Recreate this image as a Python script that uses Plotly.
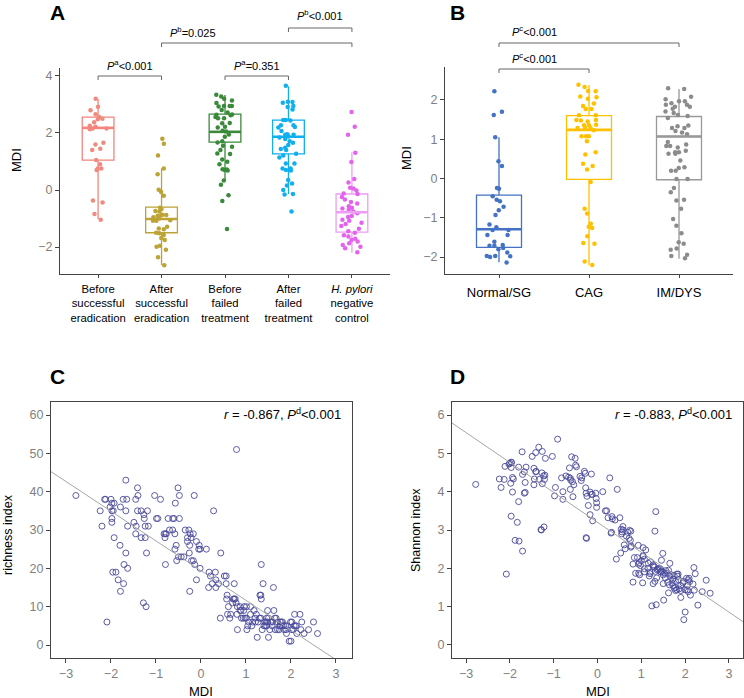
import plotly.graph_objects as go

W, H = 744, 698
FONT = "Liberation Sans, Arial, sans-serif"
TICKC = "#7f7f7f"
AXC = "#444444"

# ---------------- Panel A data ----------------
a_labels = ["Before<br>successful<br>eradication", "After<br>successful<br>eradication",
            "Before<br>failed<br>treatment", "After<br>failed<br>treatment",
            "<i>H. pylori</i><br>negative<br>control"]
a_q1 = [1.05, -1.50, 1.68, 1.27, -1.48]
a_med = [2.18, -1.02, 2.04, 1.87, -0.78]
a_q3 = [2.56, -0.60, 2.66, 2.45, -0.14]
a_lo = [-1.03, -2.63, 0.32, -0.14, -2.20]
a_hi = [3.19, 0.75, 3.33, 3.64, 1.32]
a_line_colors = ["#F4847C", "#BCA335", "#3A8A3A", "#12AFEF", "#EE9CF4"]
a_point_colors = ["#F08A80", "#BCA335", "#3A8A3A", "#12AFEF", "#E463EE"]
a_pts = [
    [3.2, 2.92, 2.8, 2.66, 2.48, 2.5, 2.56, 2.38, 2.25, 2.22, 2.16, 2.16, 2.13, 1.66, 1.6,
     1.4, 1.45, 1.05, 0.9, 0.75, 0.75, 0.7, -0.37, -0.44, -0.84, -1.04],
    [1.8, 1.62, 1.21, 0.75, 0.55, 0.01, -0.07, -0.2, -0.62, -0.67, -0.75, -0.74, -0.87, -0.88,
     -0.89, -0.9, -1.0, -1.06, -1.08, -1.08, -0.96, -1.29, -1.35, -1.38, -1.5, -1.58, -1.52,
     -1.68, -1.75, -1.96, -2.1, -1.99, -2.36, -2.64],
    [3.34, 3.28, 3.2, 3.05, 3.14, 2.95, 2.95, 2.93, 2.95, 2.81, 2.72, 2.64, 2.62, 2.65, 2.52,
     2.56, 2.52, 2.34, 2.35, 2.22, 2.19, 2.05, 2.08, 1.95, 1.87, 1.71, 1.67, 1.55, 1.52, 1.4,
     1.28, 1.26, 1.07, 0.99, 0.9, 0.72, 0.73, 0.7, 0.68, 0.33, 0.18, -0.18, -0.39, -1.37],
    [3.66, 3.1, 3.09, 2.95, 3.06, 2.91, 2.82, 2.46, 2.46, 2.44, 2.27, 2.27, 2.19, 2.21, 2.07,
     1.96, 1.94, 1.88, 1.94, 1.84, 1.79, 1.66, 1.71, 1.58, 1.48, 1.4, 1.44, 1.21, 1.27, 1.14,
     0.93, 0.93, 0.75, 0.75, 0.7, 0.68, 0.23, 0.35, 0.16, 0.0, -0.14, -0.16, -0.75],
    [2.74, 2.22, 1.94, 1.31, 0.98, 0.39, 0.26, 0.08, 0.05, -0.12, -0.14, -0.33, -0.42, -0.47,
     -0.57, -0.62, -0.65, -0.7, -0.75, -0.82, -0.91, -0.95, -1.04, -1.08, -1.15, -1.19, -1.26,
     -1.36, -1.45, -1.5, -1.59, -1.63, -1.71, -1.75, -1.81, -1.87, -1.93, -1.99, -2.04, -2.18,
     -0.02, -0.25],
]

# ---------------- Panel B data ----------------
b_labels = ["Normal/SG", "CAG", "IM/DYS"]
b_q1 = [-1.75, -0.02, -0.03]
b_med = [-1.29, 1.24, 1.07]
b_q3 = [-0.42, 1.60, 1.58]
b_lo = [-2.13, -2.21, -2.04]
b_hi = [1.05, 2.38, 2.28]
b_line_colors = ["#4472C4", "#FFC000", "#999999"]
b_point_colors = ["#4472C4", "#FFC000", "#8C8C8C"]
b_pts = [
    [2.22, 1.7, 1.62, 1.05, 0.44, 0.32, -0.24, -0.26, -0.45, -0.54, -0.58, -0.72, -0.81, -0.93,
     -1.17, -1.24, -1.31, -1.44, -1.44, -1.31, -1.69, -1.71, -1.71, -1.61, -1.77, -1.8, -1.88,
     -1.97, -2.0, -1.97, -1.98, -2.14],
    [2.39, 2.33, 2.23, 2.22, 2.07, 2.03, 2.09, 1.91, 1.85, 1.77, 1.77, 1.61, 1.61, 1.49, 1.48,
     1.49, 1.45, 1.36, 1.36, 1.29, 1.29, 1.29, 1.37, 1.23, 1.08, 1.08, 1.08, 0.95, 0.67, 0.61,
     0.38, 0.32, 0.23, -0.09, -0.77, -0.89, -1.23, -1.15, -1.26, -1.47, -1.66, -1.64, -2.11, -2.2],
    [2.3, 2.28, 2.02, 2.08, 1.97, 1.92, 1.88, 1.97, 1.88, 1.83, 1.83, 1.71, 1.67, 1.78, 1.54,
     1.62, 1.59, 1.33, 1.29, 1.29, 1.35, 1.21, 1.17, 1.13, 0.83, 0.83, 0.79, 0.87, 0.93, 0.67,
     0.63, 0.67, 0.71, 0.63, 0.46, 0.29, 0.27, 0.2, 0.2, -0.01, -0.01, -0.24, -0.35, -0.56,
     -0.54, -0.77, -1.03, -1.2, -1.39, -1.62, -1.66, -1.81, -1.78, -1.94, -1.97, -2.03],
]

# ---------------- Panel C data (MDI vs richness) ----------------
c_mdi = [-2.78, 0.79, -1.67, -1.41, -2.24, -2.2, -2.14, -2.12, -2.0, -1.98, -1.98, -1.95, -1.98,
         -1.98, -2.02, -1.93, -1.79, -1.73, -1.65, -1.67, -1.63, -1.4, -1.45, -1.41, -1.33, -1.19,
         -1.49, -1.44, -1.26, -1.27, -1.24, -1.17, -1.45, -1.93, -1.33, -1.24, -1.03, -0.9, -0.99,
         -0.96, -0.82, -0.79, -0.77, -0.73, -0.63, -0.6, -0.48, -0.7, -0.63, -0.58, -0.57, -0.51,
         -0.48, -0.15, 0.28, -0.35, -0.27, -0.24, -0.17, -0.3,
         -1.8, -1.67, -1.21, -1.71, -1.63, -1.96, -1.89, -1.84, -1.72, -1.79, -1.28, -1.22, -2.09,
         -0.8, -0.58, -0.55, -0.54, -0.5, -0.44, -0.38, -0.79, -0.25, -0.22, -0.3, -0.26, -0.21,
         -0.17, -0.14, -0.1, -0.25, -0.1, -0.05, -0.02, -0.04, -0.02, 0.12, 0.18, 0.21, 0.17, 0.25,
         0.32, 0.33, 0.33, 0.39, 0.44, 0.43, 0.52, 0.56, 0.56, 0.58, 0.57, 0.59, 0.64, 0.61, 0.66,
         0.7, 0.74, 0.72, 0.76, 0.74, 0.78, 0.81, 0.8, 0.81, 0.87, 0.89, 0.87, 0.96, 1.01, 0.94,
         0.98, 1.01, 1.02, 1.04, 1.1, 1.18, 1.23, 1.21, 1.27, 1.3, 1.33, 1.25, 1.34, 1.31, 1.33,
         1.34, 1.38, 1.36, 1.4, 1.43, 1.46, 1.42, 1.45, 1.48, 1.46, 1.48, 1.5, 1.53, 1.58, 1.62,
         1.61, 1.64, 1.67, 1.59, 1.7, 1.74, 1.76, 1.79, 1.81, 1.76, 1.8, 1.84, 1.85, 1.89, 1.9,
         1.96, 2.0, 1.99, 2.02, 2.05, 2.07, 2.1, 2.08, 2.13, 2.2, 2.22, 2.24, 2.29, 2.39, 2.5, 2.59,
         1.06, 1.15, 1.55, 1.7, 1.88, 1.2, 1.13, 1.5, 1.75, 1.92, 2.12, 1.65, 0.9, 1.1, 0.95, 2.02]
c_rich = [39, 51, 43, 41, 35, 31, 38, 38, 38, 37, 35, 35, 33, 32, 36, 37, 36, 38, 38, 35, 31, 39,
          38, 35, 35, 35, 32, 31, 33, 34, 31, 31, 29, 28, 28, 28, 39, 38, 33, 33, 29, 29, 29, 33,
          33, 33, 33, 30, 30, 29, 37, 41, 39, 39, 35, 30, 30, 29, 29, 28,
          26, 24, 24, 21, 20, 19, 19, 17, 16, 14, 11, 10, 6,
          28, 25, 26, 22, 23, 23, 23, 21, 26, 28, 27, 24, 22,
          22, 21, 17, 14, 27, 25, 25, 26, 20, 25, 19, 18, 15, 16,
          19, 17, 15, 16, 24, 7, 18, 18, 16, 13, 12, 8, 7, 10, 8,
          11, 12, 12, 12, 16, 11, 10, 8, 4, 9, 9, 10, 10, 10, 7,
          7, 7, 4, 5, 10, 9, 8, 6, 6, 7, 7, 2, 21, 13, 13,
          12, 16, 4, 5, 5, 5, 6, 6, 6, 7, 9, 2, 4, 5, 9,
          15, 7, 7, 6, 4, 4, 6, 6, 6, 5, 5, 5, 4, 4, 3,
          1, 1, 6, 4, 4, 5, 5, 8, 3, 8, 4, 6, 3, 4, 6, 3,
          6, 6, 6, 6, 5, 7, 5, 7, 5, 5, 5, 4, 7, 8, 9, 6]
c_fit = [19.4, -7.75]  # intercept, slope
c_text = "<i>r</i> = -0.867, <i>P</i><sup>d</sup>&lt;0.001"

# ---------------- Panel D data (MDI vs Shannon) ----------------
d_mdi = [-2.78, -2.24, -2.13, -2.2, -2.11, -2.02, -2.0, -1.97, -1.96, -1.97, -1.94, -1.92, -1.98,
         -1.94, -1.8, -1.72, -1.71, -1.67, -1.65, -1.65, -1.67, -1.63, -1.8, -1.97, -1.83, -1.49,
         -1.41, -1.34, -1.26, -1.19, -1.03, -0.91, -1.45, -1.41, -1.4, -1.44, -1.45, -1.27, -1.23,
         -1.2, -1.33, -1.26, -1.21, -1.29, -1.22, -0.96, -0.98, -0.82, -0.79, -0.79, -0.72, -0.66,
         -0.62, -0.61, -0.57, -0.54, -0.59, -0.51, -0.5, -0.48, -0.64, -0.62, -0.56, -0.4, -0.36,
         -0.28, -0.3, -0.37, -0.27, -0.26, -0.24, -0.21, -0.17, -0.17, -0.11, -0.14, -0.12, -0.04,
         -0.03, -0.02, -0.02, -0.14, 0.12, 0.28, 0.45, 0.18, 0.21, 0.24, 0.33, 0.34, 0.51, 0.4,
         0.58, 1.33, 1.31, 0.32, 0.54, 0.56, 0.69, 0.73, 0.76, -0.26,
         -1.88, -1.79, -1.71, -2.08, -1.28, -0.25, 0.31, 0.58, 0.55, 0.66, 0.72, 0.75, 0.77, 0.76,
         0.61, 0.63, 0.53, 0.43, 0.93, 1.04, 1.1, 0.84, 0.91, 1.04, 1.04, 1.07, 0.81, 0.94, 0.98,
         0.87, 0.94, 0.96, 0.81, 1.03, 1.07, 1.07, 1.18, 1.2, 1.16, 1.21, 1.27, 1.3, 1.32, 1.36,
         1.27, 1.31, 1.24, 1.34, 1.51, 1.46, 1.49, 1.41, 1.44, 1.47, 1.44, 1.5, 1.53, 1.6, 1.64,
         1.62, 1.56, 1.6, 1.65, 1.69, 1.75, 1.72, 1.75, 1.78, 1.81, 1.86, 1.9, 1.78, 1.83, 1.81,
         1.84, 1.9, 1.96, 2.03, 2.07, 2.09, 2.0, 2.05, 2.07, 2.0, 1.97, 2.12, 2.18, 2.21, 2.2, 2.23,
         2.29, 2.39, 2.48, 2.57,
         1.45, 1.55, 1.38, 1.65, 1.72, 1.85, 1.28, 1.15, 1.95, 2.05, 1.5, 1.62, 1.35, 1.2, 1.78,
         1.9, 2.1, 0.95, 1.0, 1.7]
d_shan = [4.19, 4.33, 4.32, 4.11, 4.66, 4.72, 4.74, 4.77, 4.76, 4.63, 4.37, 4.33, 4.22, 3.99,
          4.64, 5.04, 4.45, 4.52, 4.24, 3.98, 3.96, 4.64, 3.74, 3.36, 3.2, 4.92, 5.02, 5.16, 5.05,
          4.87, 4.92, 5.37, 4.61, 4.52, 4.53, 4.33, 4.18, 4.49, 4.41, 4.43, 4.32, 4.21, 4.32, 3.01,
          3.08, 4.11, 3.89, 4.36, 4.0, 3.8, 4.41, 4.38, 4.35, 4.3, 4.26, 4.18, 4.91, 4.87, 4.69,
          4.65, 4.62, 4.06, 3.87, 4.4, 4.36, 4.48, 4.53, 4.29, 4.1, 3.96, 3.88, 3.64, 3.99, 3.4,
          3.24, 3.93, 3.93, 3.96, 3.82, 3.71, 3.59, 4.46, 4.0, 4.36, 4.06, 3.5, 3.5, 3.32, 3.35,
          3.29, 3.32, 3.26, 3.09, 3.48, 2.97, 2.94, 3.02, 2.95, 2.94, 2.99, 2.97, 2.8,
          2.73, 2.71, 2.45, 1.85, 3.0, 2.78, 2.92, 3.0, 2.9, 2.84, 2.78, 2.73, 2.58, 2.55,
          2.61, 2.51, 2.4, 2.24, 2.6, 2.54, 2.48, 2.28, 2.28, 2.33, 2.31, 2.24, 2.11, 2.11, 2.07,
          1.87, 1.87, 1.83, 1.64, 1.62, 1.91, 1.99, 1.8, 1.86, 2.13, 2.17, 2.09, 2.03, 1.92, 1.96,
          1.6, 1.66, 1.02, 1.05, 1.17, 2.21, 2.39, 2.0, 1.98, 1.93, 1.91, 1.83, 1.87, 1.64, 1.57,
          1.36, 1.94, 1.87, 2.13, 1.83, 1.81, 1.55, 1.48, 1.42, 1.44, 1.46, 1.55, 1.66, 1.79, 1.85,
          1.85, 1.24, 1.66, 1.74, 1.7, 1.74, 1.44, 1.44, 1.39, 0.86, 0.66, 1.3, 1.59, 1.43, 2.02,
          1.86, 1.04, 1.39, 1.69, 1.35,
          1.9, 1.75, 1.98, 1.8, 1.72, 1.7, 2.05, 2.0, 1.62, 1.55, 1.6, 1.95, 1.75, 1.9, 1.5,
          1.42, 1.65, 2.15, 2.2, 1.62]
d_fit = [3.2, -0.781]
d_text = "<i>r</i> = -0.883, <i>P</i><sup>d</sup>&lt;0.001"


def xdom(l, r):
    return [l / W, r / W]


def ydom(t, b):
    return [1 - b / H, 1 - t / H]


fig = go.Figure()

# ---- panel A ----
A_XR = [-0.6, 4.6]
for i in range(5):
    fig.add_trace(go.Box(x=[i], q1=[a_q1[i]], median=[a_med[i]], q3=[a_q3[i]],
                         lowerfence=[a_lo[i]], upperfence=[a_hi[i]], boxpoints=False,
                         width=0.5, whiskerwidth=0, fillcolor="rgba(255,255,255,0)",
                         line=dict(color=a_line_colors[i], width=1.3),
                         xaxis="x", yaxis="y", showlegend=False, hoverinfo="skip"))
    fig.add_trace(go.Scatter(x=[i - 0.25, i + 0.25], y=[a_med[i], a_med[i]], mode="lines",
                             line=dict(color=a_line_colors[i], width=2.6),
                             xaxis="x", yaxis="y", showlegend=False, hoverinfo="skip"))
    fig.add_trace(go.Box(x=[i] * len(a_pts[i]), y=a_pts[i], boxpoints="all", jitter=0.75,
                         pointpos=0, width=0.5, fillcolor="rgba(0,0,0,0)",
                         line=dict(color="rgba(0,0,0,0)", width=0), whiskerwidth=0,
                         marker=dict(color=a_point_colors[i], size=4.5, line=dict(width=0)),
                         xaxis="x", yaxis="y", showlegend=False, hoverinfo="skip"))

# ---- panel B ----
B_XR = [-0.6, 2.6]
for i in range(3):
    fig.add_trace(go.Box(x=[i], q1=[b_q1[i]], median=[b_med[i]], q3=[b_q3[i]],
                         lowerfence=[b_lo[i]], upperfence=[b_hi[i]], boxpoints=False,
                         width=0.5, whiskerwidth=0, fillcolor="rgba(255,255,255,0)",
                         line=dict(color=b_line_colors[i], width=1.3),
                         xaxis="x2", yaxis="y2", showlegend=False, hoverinfo="skip"))
    fig.add_trace(go.Scatter(x=[i - 0.25, i + 0.25], y=[b_med[i], b_med[i]], mode="lines",
                             line=dict(color=b_line_colors[i], width=2.6),
                             xaxis="x2", yaxis="y2", showlegend=False, hoverinfo="skip"))
    fig.add_trace(go.Box(x=[i] * len(b_pts[i]), y=b_pts[i], boxpoints="all", jitter=0.75,
                         pointpos=0, width=0.5, fillcolor="rgba(0,0,0,0)",
                         line=dict(color="rgba(0,0,0,0)", width=0), whiskerwidth=0,
                         marker=dict(color=b_point_colors[i], size=4.5, line=dict(width=0)),
                         xaxis="x2", yaxis="y2", showlegend=False, hoverinfo="skip"))

# ---- panel C ----
C_XR = [-3.333, 3.356]
fig.add_trace(go.Scatter(x=c_mdi, y=c_rich, mode="markers",
                         marker=dict(symbol="circle-open", size=6, color="#4a4a9c",
                                     line=dict(width=0.9)),
                         xaxis="x3", yaxis="y3", showlegend=False, hoverinfo="skip"))
fig.add_trace(go.Scatter(x=[C_XR[0], C_XR[1]],
                         y=[c_fit[0] + c_fit[1] * C_XR[0], c_fit[0] + c_fit[1] * C_XR[1]],
                         mode="lines", line=dict(color="#a6a6a6", width=1),
                         xaxis="x3", yaxis="y3", showlegend=False, hoverinfo="skip"))

# ---- panel D ----
D_XR = [-3.32, 3.32]
fig.add_trace(go.Scatter(x=d_mdi, y=d_shan, mode="markers",
                         marker=dict(symbol="circle-open", size=6, color="#4a4a9c",
                                     line=dict(width=0.9)),
                         xaxis="x4", yaxis="y4", showlegend=False, hoverinfo="skip"))
fig.add_trace(go.Scatter(x=[D_XR[0], D_XR[1]],
                         y=[d_fit[0] + d_fit[1] * D_XR[0], d_fit[0] + d_fit[1] * D_XR[1]],
                         mode="lines", line=dict(color="#a6a6a6", width=1),
                         xaxis="x4", yaxis="y4", showlegend=False, hoverinfo="skip"))

tickf = dict(family=FONT, size=12.5, color=TICKC)
common = dict(showgrid=False, zeroline=False, showline=True, linecolor=AXC, linewidth=1,
              ticks="outside", ticklen=4, tickcolor=AXC, tickfont=tickf)

A_DX, A_DY = xdom(60, 390), ydom(68, 274)
B_DX, B_DY = xdom(445, 733), ydom(67, 274)
C_DX, C_DY = xdom(51, 352), ydom(402, 658)
D_DX, D_DY = xdom(452, 743), ydom(402, 658)

fig.update_layout(
    width=W, height=H, margin=dict(l=0, r=0, t=0, b=0),
    paper_bgcolor="white", plot_bgcolor="white", boxmode="overlay",
    font=dict(family=FONT, color="black"),
    xaxis=dict(domain=A_DX, range=A_XR, anchor="y", tickvals=list(range(5)), ticktext=a_labels,
               ticklabelstandoff=1,
               **{**common, "tickfont": dict(family=FONT, size=11.3, color="black"), "ticklen": 3}),
    yaxis=dict(domain=A_DY, range=[-2.947, 4.28], anchor="x", tickvals=[-2, 0, 2, 4], **common),
    xaxis2=dict(domain=B_DX, range=B_XR, anchor="y2", tickvals=list(range(3)), ticktext=b_labels,
                ticklabelstandoff=3,
                **{**common, "tickfont": dict(family=FONT, size=13, color="black"), "ticklen": 3}),
    yaxis2=dict(domain=B_DY, range=[-2.43, 2.84], anchor="x2", tickvals=[-2, -1, 0, 1, 2], **common),
    xaxis3=dict(domain=C_DX, range=C_XR, anchor="y3", tickvals=[-3, -2, -1, 0, 1, 2, 3],
                mirror=True, **common),
    yaxis3=dict(domain=C_DY, range=[-3.39, 63.39], anchor="x3", tickvals=[0, 10, 20, 30, 40, 50, 60],
                mirror=True, **common),
    xaxis4=dict(domain=D_DX, range=D_XR, anchor="y4", tickvals=[-3, -2, -1, 0, 1, 2, 3],
                mirror=True, **common),
    yaxis4=dict(domain=D_DY, range=[-0.34, 6.34], anchor="x4", tickvals=[0, 1, 2, 3, 4, 5, 6],
                mirror=True, **common),
)


def px_x(dom, rng, v):
    return dom[0] + (v - rng[0]) / (rng[1] - rng[0]) * (dom[1] - dom[0])


def py(p):
    return 1 - p / H


BR = "#666666"


def bracket(dom, rng, i, j, ypx, drop=4):
    x0, x1 = px_x(dom, rng, i), px_x(dom, rng, j)
    fig.add_shape(type="path", xref="paper", yref="paper",
                  path=f"M {x0},{py(ypx + drop)} L {x0},{py(ypx)} L {x1},{py(ypx)} L {x1},{py(ypx + drop)}",
                  line=dict(color=BR, width=1))


def label(text, xpx, ypx, size=11, xanchor="center", **kw):
    fig.add_annotation(text=text, x=xpx / W, y=py(ypx), xref="paper", yref="paper",
                       showarrow=False, xanchor=xanchor, yanchor="middle",
                       font=dict(family=FONT, size=size, color="black"), **kw)


# panel A brackets
bracket(A_DX, A_XR, 0, 1, 76)
bracket(A_DX, A_XR, 2, 3, 76)
bracket(A_DX, A_XR, 1, 4, 43)
bracket(A_DX, A_XR, 3, 4, 28)
label("<i>P</i><sup>a</sup>&lt;0.001", px_x(A_DX, A_XR, 0.5) * W, 65)
label("<i>P</i><sup>a</sup>=0.351", px_x(A_DX, A_XR, 2.5) * W, 65)
label("<i>P</i><sup>b</sup>=0.025", 168, 32, xanchor="left")
label("<i>P</i><sup>b</sup>&lt;0.001", px_x(A_DX, A_XR, 3.5) * W, 15)

# panel B brackets
bracket(B_DX, B_XR, 0, 2, 43)
bracket(B_DX, B_XR, 0, 1, 69)
label("<i>P</i><sup>c</sup>&lt;0.001", 510, 31, xanchor="left")
label("<i>P</i><sup>c</sup>&lt;0.001", 510, 58, xanchor="left")

# panel letters
for t, x, y in [("A", 57, 13), ("B", 457, 13), ("C", 57, 376), ("D", 457, 376)]:
    label(f"<b>{t}</b>", x, y, size=21)

# axis titles
label("MDI", 16, 160, size=13, textangle=-90)
label("MDI", 406, 158, size=13, textangle=-90)
label("richness index", 8, 535, size=12.5, textangle=-90)
label("Shannon index", 416, 530, size=12.5, textangle=-90)
label("MDI", 201, 691, size=13)
label("MDI", 598, 691, size=13)

# correlation labels
label(c_text, 343, 414, size=13, xanchor="right")
label(d_text, 734, 414, size=13, xanchor="right")

fig.write_html("out.html", config={"displayModeBar": False},
               post_script="document.body.style.margin='0';document.body.style.padding='0';")
